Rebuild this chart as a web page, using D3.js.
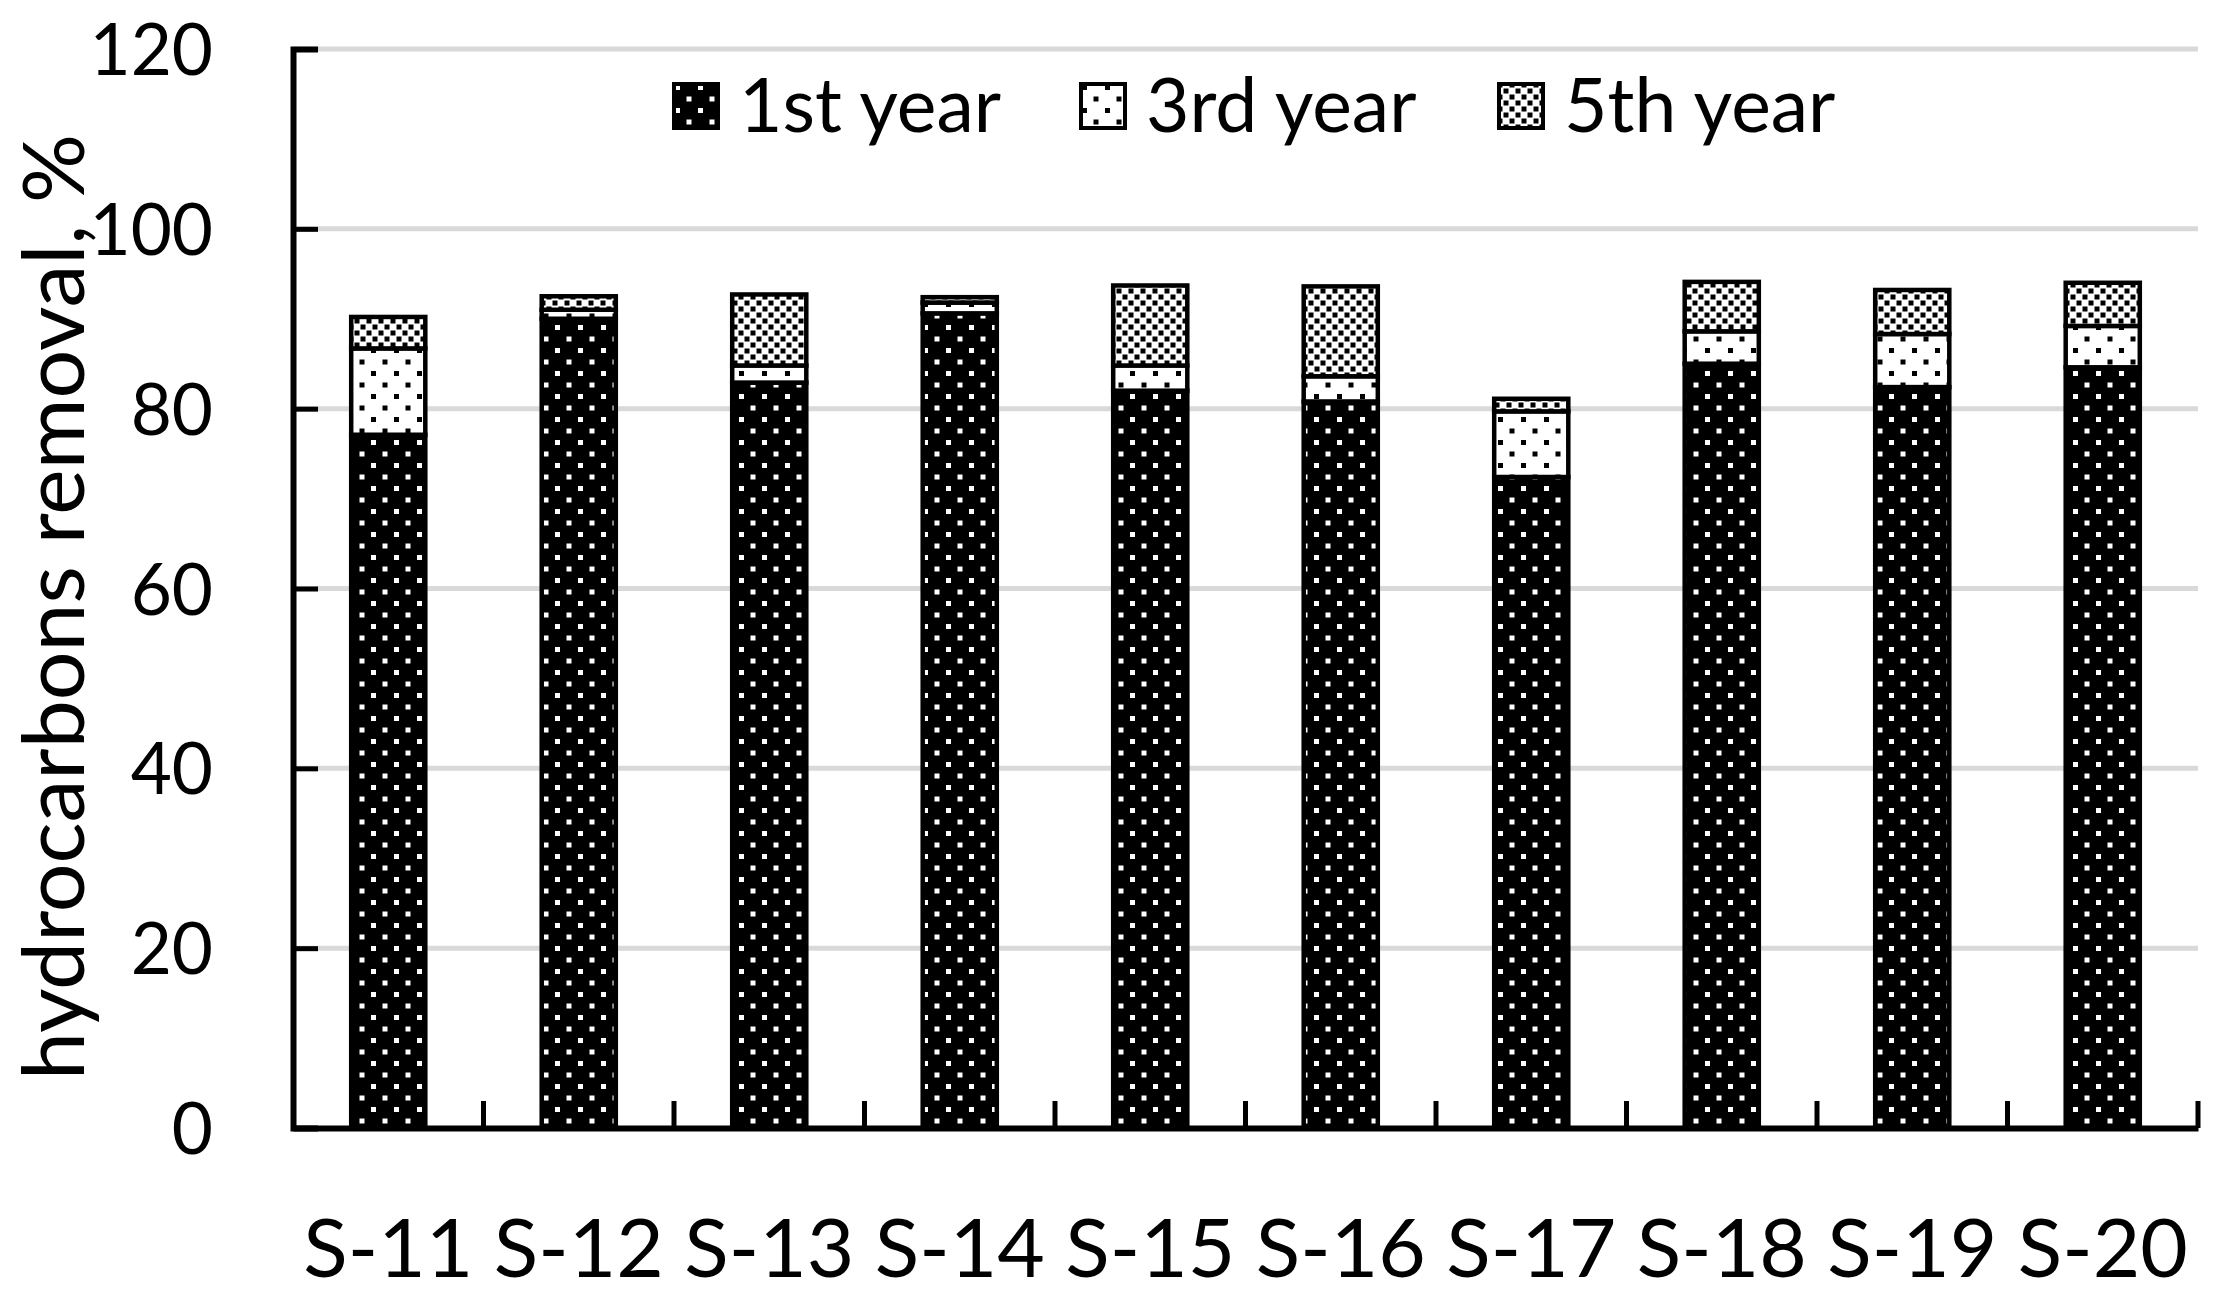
<!DOCTYPE html>
<html>
<head>
<meta charset="utf-8">
<script src="https://cdn.jsdelivr.net/npm/d3@7"></script>
<style>
  body { margin: 0; background: #fff; }
  svg text { font-family: Lato, "Open Sans", sans-serif; fill: #000; }
</style>
</head>
<body>
<svg id="chart" width="2215" height="1300"></svg>
<script>
// samples on the x axis
const categories = ['S-11', 'S-12', 'S-13', 'S-14', 'S-15', 'S-16', 'S-17', 'S-18', 'S-19', 'S-20'];
// removal added in each period, %
const year1 = [77.1, 90.0, 82.9, 90.6, 82.0, 80.8, 72.4, 85.0, 82.4, 84.6];
const year3 = [9.6, 1.0, 1.9, 1.2, 2.8, 2.8, 7.3, 3.6, 5.9, 4.6];
const year5 = [3.5, 1.5, 7.9, 0.6, 8.9, 10.0, 1.4, 5.5, 4.9, 4.8];
const seriesNames = ['1st year', '3rd year', '5th year'];
const yTicks = [0, 20, 40, 60, 80, 100, 120];

const svg = d3.select('#chart');

// Build the rows for d3.stack
const rows = categories.map((c, i) => ({
  cat: c, '1st year': year1[i], '3rd year': year3[i], '5th year': year5[i]
}));
const stacked = d3.stack().keys(seriesNames)(rows);

// Scales
const x = d3.scaleBand()
  .domain(categories)
  .range([293, 2198])
  .paddingInner(0.59)
  .paddingOuter(0.295);
const y = d3.scaleLinear().domain([0, 120]).range([1128, 49]);

// Patterns for the three series
const defs = svg.append('defs');

const p1 = defs.append('pattern').attr('id', 'pat1')
  .attr('patternUnits', 'userSpaceOnUse').attr('width', 23).attr('height', 23);
p1.append('rect').attr('width', 23).attr('height', 23).attr('fill', '#000');
p1.append('rect').attr('x', 3).attr('y', 3).attr('width', 5).attr('height', 5).attr('fill', '#fff');
p1.append('rect').attr('x', 14.5).attr('y', 14.5).attr('width', 5).attr('height', 5).attr('fill', '#fff');

const p3 = defs.append('pattern').attr('id', 'pat3')
  .attr('patternUnits', 'userSpaceOnUse').attr('width', 23).attr('height', 23);
p3.append('rect').attr('width', 23).attr('height', 23).attr('fill', '#fff');
p3.append('rect').attr('x', 3).attr('y', 3).attr('width', 5).attr('height', 5).attr('fill', '#000');
p3.append('rect').attr('x', 14.5).attr('y', 14.5).attr('width', 5).attr('height', 5).attr('fill', '#000');

const p5 = defs.append('pattern').attr('id', 'pat5')
  .attr('patternUnits', 'userSpaceOnUse').attr('width', 12).attr('height', 12);
p5.append('rect').attr('width', 12).attr('height', 12).attr('fill', '#fff');
p5.append('rect').attr('x', 0.5).attr('y', 0.5).attr('width', 5).attr('height', 5).attr('fill', '#000');
p5.append('rect').attr('x', 6.5).attr('y', 6.5).attr('width', 5).attr('height', 5).attr('fill', '#000');

const fills = { '1st year': 'url(#pat1)', '3rd year': 'url(#pat3)', '5th year': 'url(#pat5)' };

// Gridlines
svg.append('g')
  .selectAll('line')
  .data(yTicks.filter(t => t > 0))
  .join('line')
  .attr('x1', 293).attr('x2', 2198)
  .attr('y1', d => y(d)).attr('y2', d => y(d))
  .attr('stroke', '#d9d9d9')
  .attr('stroke-width', 5);

// Bars
svg.append('g')
  .selectAll('g')
  .data(stacked)
  .join('g')
  .attr('fill', d => fills[d.key])
  .selectAll('rect')
  .data(d => d)
  .join('rect')
  .attr('x', d => x(d.data.cat) + 2)
  .attr('width', x.bandwidth() - 4)
  .attr('y', d => y(d[1]))
  .attr('height', d => y(d[0]) - y(d[1]))
  .attr('stroke', '#000')
  .attr('stroke-width', 4.5);

// Y axis
const yAxis = svg.append('g')
  .attr('transform', 'translate(293,0)')
  .call(d3.axisLeft(y).tickValues(yTicks).tickSize(-25).tickPadding(80));
yAxis.select('.domain').attr('stroke', '#000').attr('stroke-width', 6);
yAxis.selectAll('.tick line').attr('stroke', '#000').attr('stroke-width', 5);
yAxis.selectAll('.tick text')
  .attr('font-size', 71)
  .attr('font-family', 'Lato')
  .attr('dy', '0.36em');

// X axis: labels at band centres, ticks at band boundaries
const xAxis = svg.append('g')
  .attr('transform', 'translate(0,1128)')
  .call(d3.axisBottom(x).tickSize(0).tickPadding(0));
xAxis.select('.domain').attr('stroke', '#000').attr('stroke-width', 6);
xAxis.selectAll('.tick text')
  .attr('font-size', 82)
  .attr('font-family', 'Lato')
  .attr('y', 149)
  .attr('dy', 0);

const bounds = categories.map((c, i) => x.range()[0] + x.step() * (i + 1));
xAxis.append('g')
  .selectAll('line')
  .data(bounds)
  .join('line')
  .attr('x1', d => d).attr('x2', d => d)
  .attr('y1', 0).attr('y2', -27)
  .attr('stroke', '#000')
  .attr('stroke-width', 5);

// Y axis title
svg.append('text')
  .attr('transform', 'translate(84,607) rotate(-90)')
  .attr('text-anchor', 'middle')
  .attr('font-size', 86)
  .text('hydrocarbons removal, %');

// Legend
const legendX = [672, 1079, 1497];
const legend = svg.append('g')
  .selectAll('g')
  .data(seriesNames)
  .join('g')
  .attr('transform', (d, i) => `translate(${legendX[i]},82)`);
legend.append('rect')
  .attr('x', 2).attr('y', 2)
  .attr('width', 44).attr('height', 44)
  .attr('fill', d => fills[d])
  .attr('stroke', '#000')
  .attr('stroke-width', 4);
legend.append('text')
  .attr('x', 67)
  .attr('y', 50)
  .attr('font-size', 75)
  .text(d => d);
</script>
</body>
</html>
